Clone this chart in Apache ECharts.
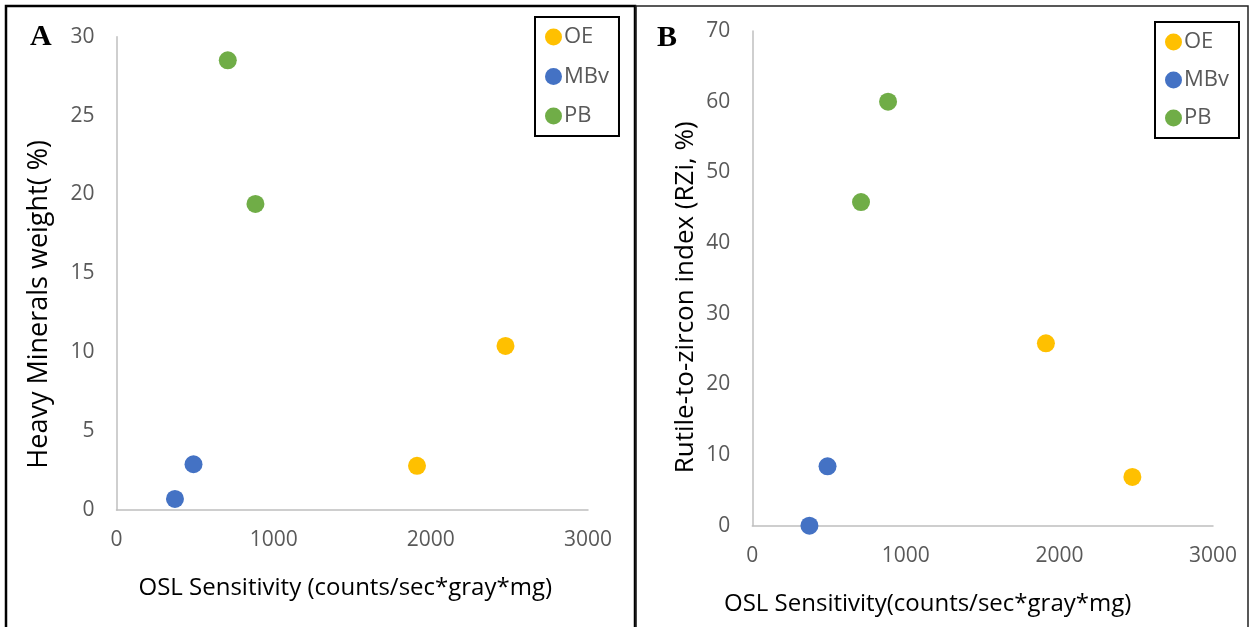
<!DOCTYPE html>
<html>
<head>
<meta charset="utf-8">
<script src="https://cdn.jsdelivr.net/npm/echarts@6/dist/echarts.min.js"></script>
<style>
  html, body { margin: 0; padding: 0; background: #fff; }
  #chart { width: 1252px; height: 627px; }
</style>
</head>
<body>
<div id="chart"></div>
<script>
// OSL sensitivity (x) shared by both panels
var seriesNames = ["OE", "MBv", "PB"];
var colors = ["#FFC000", "#4472C4", "#70AD47"];

// panel A: heavy minerals weight (%)
var heavyOE = [[1912, 2.8], [2475, 10.4]];
var heavyMBv = [[372, 0.7], [490, 2.9]];
var heavyPB = [[708, 28.5], [884, 19.4]];

// panel B: rutile-to-zircon index (%)
var rziOE = [[1912, 25.8], [2475, 6.9]];
var rziMBv = [[372, 0], [490, 8.4]];
var rziPB = [[708, 45.8], [884, 60.0]];

var font = "'Open Sans', 'Noto Sans', sans-serif";

function xAxisOpt(idx, title, pad) {
  return {
    type: "value",
    gridIndex: idx,
    min: 0,
    max: 3000,
    interval: 1000,
    splitLine: { show: false },
    axisTick: { show: false },
    axisLine: { show: true, lineStyle: { color: "#BFBFBF", width: 1.5 } },
    axisLabel: {
      color: "#595959", fontSize: 21, fontFamily: font, margin: 20,
      formatter: function (v) { return String(v); }
    },
    name: title,
    nameLocation: "middle",
    nameGap: 66,
    nameTextStyle: { color: "#000", fontSize: 24, fontFamily: font, padding: pad }
  };
}

function yAxisOpt(idx, max, interval, title, gap, size, pad) {
  return {
    type: "value",
    gridIndex: idx,
    min: 0,
    max: max,
    interval: interval,
    splitLine: { show: false },
    axisTick: { show: false },
    axisLine: { show: true, lineStyle: { color: "#BFBFBF", width: 1.5 } },
    axisLabel: { color: "#595959", fontSize: 21, fontFamily: font, margin: 22 },
    name: title,
    nameLocation: "middle",
    nameRotate: 90,
    nameGap: gap,
    nameTextStyle: { color: "#000", fontSize: size, fontFamily: font, padding: pad }
  };
}

function scatter(name, data, idx, color) {
  return {
    name: name,
    type: "scatter",
    xAxisIndex: idx,
    yAxisIndex: idx,
    data: data,
    symbolSize: 18,
    itemStyle: { color: color, opacity: 1 }
  };
}

function legendOpt(left, top, gap) {
  return {
    data: seriesNames,
    orient: "vertical",
    left: left,
    top: top,
    icon: "circle",
    itemWidth: 17,
    itemHeight: 17,
    itemGap: gap,
    padding: [9, 10, 9, 10],
    borderColor: "#000",
    borderWidth: 2,
    textStyle: { color: "#595959", fontSize: 22, lineHeight: 20, fontFamily: font, padding: [0, 0, 0, -3] }
  };
}

var myChart = echarts.init(document.getElementById("chart"));
myChart.setOption({
  animation: false,
  color: colors,
  grid: [
    { left: 116.5, top: 36.7, width: 471.5, height: 473.3 },
    { left: 752.3, top: 31, width: 460.7, height: 494.7 }
  ],
  xAxis: [
    xAxisOpt(0, "OSL Sensitivity (counts/sec*gray*mg)", [0, 14, 0, 0]),
    xAxisOpt(1, "OSL Sensitivity(counts/sec*gray*mg)", [0, 110, 0, 0])
  ],
  yAxis: [
    yAxisOpt(0, 30, 5, "Heavy Minerals weight( %)", 64, 27, [0, 62, 0, 0]),
    yAxisOpt(1, 70, 10, "Rutile-to-zircon index (RZi, %)", 54, 26, [0, 38, 0, 0])
  ],
  legend: [legendOpt(535, 17, 17.5), legendOpt(1155, 22, 16)],
  series: [
    scatter("OE", heavyOE, 0, colors[0]),
    scatter("MBv", heavyMBv, 0, colors[1]),
    scatter("PB", heavyPB, 0, colors[2]),
    scatter("OE", rziOE, 1, colors[0]),
    scatter("MBv", rziMBv, 1, colors[1]),
    scatter("PB", rziPB, 1, colors[2])
  ],
  graphic: [
    // panel frames
    { type: "rect", shape: { x: 6, y: 6, width: 629, height: 640 }, style: { fill: "none", stroke: "#000", lineWidth: 2.5 } },
    { type: "rect", shape: { x: 636, y: 6, width: 612, height: 640 }, style: { fill: "none", stroke: "#222", lineWidth: 1.5 } },
    // panel letters
    { type: "text", left: 30, top: 22, style: { text: "A", fill: "#000", font: "bold 30px 'Liberation Serif', serif" } },
    { type: "text", left: 657, top: 23, style: { text: "B", fill: "#000", font: "bold 30px 'Liberation Serif', serif" } }
  ]
});
</script>
</body>
</html>
